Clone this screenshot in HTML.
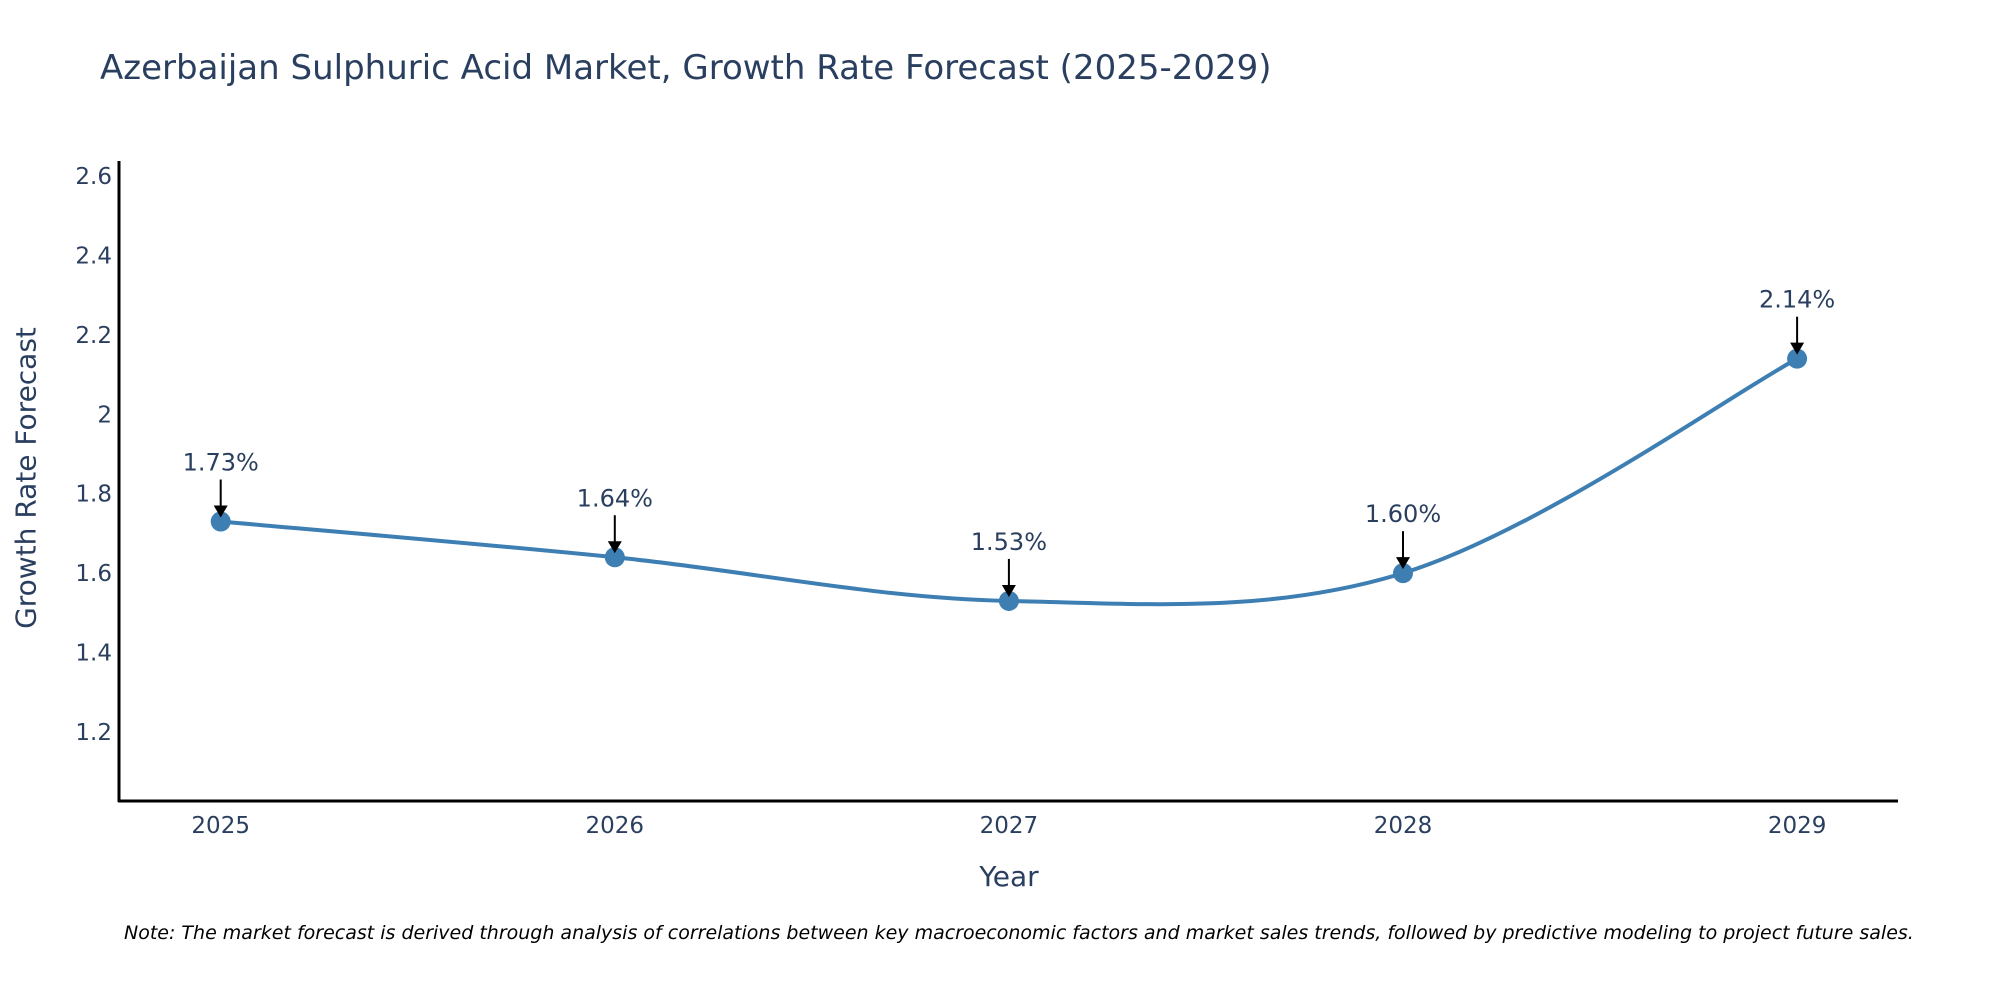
<!DOCTYPE html>
<html><head><meta charset="utf-8"><style>
html,body{margin:0;padding:0;background:#fff;}
svg{display:block;font-family:"DejaVu Sans","Liberation Sans",sans-serif;}
</style></head><body>
<svg id="chart" width="2000" height="1000" viewBox="0 0 2000 1000">
<text x="100" y="79" font-size="34" fill="#2a3f5f">Azerbaijan Sulphuric Acid Market, Growth Rate Forecast (2025-2029)</text>
<g id="yticks"></g>
<g id="xticks"></g>
<line x1="119" y1="161" x2="119" y2="802" stroke="#000" stroke-width="3"/>
<line x1="118" y1="801" x2="1898" y2="801" stroke="#000" stroke-width="3"/>
<path id="series" fill="none" stroke="#3d7eb3" stroke-width="4"/>
<g id="points"></g>
<g id="annots"></g>
<text x="26" y="478" font-size="28" fill="#2a3f5f" text-anchor="middle" transform="rotate(-90 26 478)" dominant-baseline="central">Growth Rate Forecast</text>
<text x="1009" y="886" font-size="28" fill="#2a3f5f" text-anchor="middle">Year</text>
<text x="124" y="939" font-size="19" font-style="italic" fill="#000">Note: The market forecast is derived through analysis of correlations between key macroeconomic factors and market sales trends, followed by predictive modeling to project future sales.</text>
</svg>
<script>
const years = [2025, 2026, 2027, 2028, 2029];
const values = [1.73, 1.64, 1.53, 1.60, 2.14];
const labels = ["1.73%", "1.64%", "1.53%", "1.60%", "2.14%"];
const yTicks = [1.2, 1.4, 1.6, 1.8, 2, 2.2, 2.4, 2.6];

const NS = "http://www.w3.org/2000/svg";
function xs(v){ return 220.7 + (v - 2025) * 394.1; }
function ys(v){ return 732 - (v - 1.2) * (556 / 1.4); }
function mk(tag, attrs, parent){ const e = document.createElementNS(NS, tag); for (const k in attrs) e.setAttribute(k, attrs[k]); parent.appendChild(e); return e; }

const yg = document.getElementById('yticks');
yTicks.forEach(t => {
  const e = mk('text', {x: 112, y: ys(t) + 8, 'font-size': 23, fill: '#2a3f5f', 'text-anchor': 'end'}, yg);
  
  
  e.textContent = String(t);
});
const xg = document.getElementById('xticks');
years.forEach(y => {
  const e = mk('text', {x: xs(y), y: 833, 'font-size': 23, fill: '#2a3f5f', 'text-anchor': 'middle'}, xg);
  
  
  e.textContent = String(y);
});

const pts = years.map((y, i) => [xs(y), ys(values[i])]);
let d = `M${pts[0][0]},${pts[0][1]}`;
const s = 0.17;
for (let i = 0; i < pts.length - 1; i++) {
  const p0 = pts[i - 1] || pts[i], p1 = pts[i], p2 = pts[i + 1], p3 = pts[i + 2] || p2;
  const c1 = [p1[0] + (p2[0] - p0[0]) * s, p1[1] + (p2[1] - p0[1]) * s];
  const c2 = [p2[0] - (p3[0] - p1[0]) * s, p2[1] - (p3[1] - p1[1]) * s];
  d += ` C${c1[0]},${c1[1]} ${c2[0]},${c2[1]} ${p2[0]},${p2[1]}`;
}
document.getElementById('series').setAttribute('d', d);

const pg = document.getElementById('points');
const ag = document.getElementById('annots');
pts.forEach((p, i) => {
  const c = mk('circle', {cx: p[0], cy: p[1], r: 10, fill: '#3d7eb3'}, pg);
  
  
  const l = mk('line', {x1: p[0], y1: p[1] - 42, x2: p[0], y2: p[1] - 14, stroke: '#000', 'stroke-width': 2}, ag);
  
  
  const h = mk('polygon', {points: `${p[0]-7},${p[1]-16} ${p[0]+7},${p[1]-16} ${p[0]},${p[1]-4}`, fill: '#000'}, ag);
  
  
  const t = mk('text', {x: p[0], y: p[1] - 51, 'font-size': 24, fill: '#2a3f5f', 'text-anchor': 'middle'}, ag);
  
  
  t.textContent = labels[i];
});
</script>
</body></html>
